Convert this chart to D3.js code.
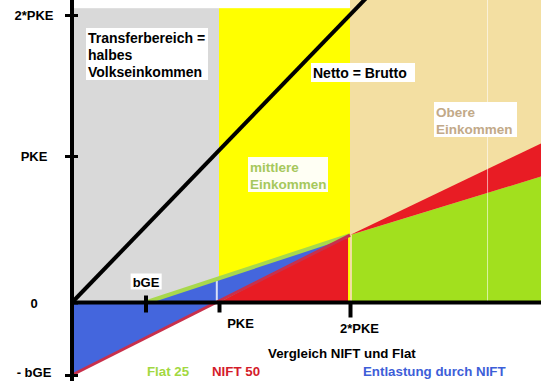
<!DOCTYPE html>
<html>
<head>
<meta charset="utf-8">
<script src="https://cdn.jsdelivr.net/npm/d3@7"></script>
<style>
  body { margin: 0; background: #fff; }
  text { font-family: Arial, "Liberation Sans", sans-serif; font-weight: bold; }
</style>
</head>
<body>
<svg id="chart" width="541" height="381"></svg>
<script>
// values in units of PKE (x = Brutto, y = Netto-Differenz)
var xTickValues = [0.5, 1, 2];
var xTickLabels = ["bGE", "PKE", "2*PKE"];
var yTickValues = [2, 1, 0, -0.5];
var yTickLabels = ["2*PKE", "PKE", "0", "- bGE"];

var flat25 = [[0.5, 0], [2, 0.46], [3.46, 0.86]];
var nift50 = [[0, -0.5], [2, 0.46], [3.46, 1.09]];
var nettoBrutto = [[0, 0], [2.16, 2.16]];

var bandNames = ["Transferbereich", "mittlere Einkommen", "Obere Einkommen"];
var bandStart = [0, 1, 2];
var bandEnd = [1, 2, 3.46];
var bandTop = [2.05, 2.05, 2.12];

var bandColor = {"Transferbereich": "#d9d9d9", "mittlere Einkommen": "#ffff00", "Obere Einkommen": "#f3dfa2"};

var svg = d3.select("#chart");
svg.append("rect").attr("width", 541).attr("height", 381).attr("fill", "#fff");

// hand drawn picture -> piecewise scales
var x = d3.scaleLinear().domain([0, 1, 2, 3.5]).range([72, 219, 350, 546.5]);
var y = d3.scaleLinear().domain([-0.5, 0, 1, 2, 2.11]).range([375, 302.5, 156, 15, 0]);

function at(series, v) {
    for (var i = 1; i < series.length; i++) {
        var a = series[i - 1], b = series[i];
        if (v <= b[0]) return a[1] + (b[1] - a[1]) * (v - a[0]) / (b[0] - a[0]);
    }
    return series[series.length - 1][1];
}

var line = d3.line().x(function(d) { return x(d[0]); }).y(function(d) { return y(d[1]); });
var poly = function(pts) { return line(pts) + "Z"; };

// background bands
svg.append("g").selectAll("rect")
    .data(bandNames)
    .join("rect")
    .attr("x", function(d, i) { return x(bandStart[i]); })
    .attr("y", function(d, i) { return y(bandTop[i]); })
    .attr("width", function(d, i) { return x(bandEnd[i]) - x(bandStart[i]); })
    .attr("height", function(d, i) { return y(0) - y(bandTop[i]); })
    .attr("fill", function(d) { return bandColor[d]; });

var xEnd = flat25[flat25.length - 1][0];

// red area under NIFT 50 between its zero and 2*PKE
var redZero = nift50[0][0] + (0 - nift50[0][1]) * (nift50[1][0] - nift50[0][0]) / (nift50[1][1] - nift50[0][1]);
svg.append("path")
    .attr("d", poly([[redZero - 0.02, 0], [redZero - 0.02, 0.01], [1.985, at(nift50, 1.985) + 0.01], [1.985, 0]]))
    .attr("fill", "#e81c24");

// green area under Flat 25 beyond 2*PKE
var greenPts = [[2.015, 0]].concat([[2.015, at(flat25, 2.015)]], flat25.filter(function(d) { return d[0] > 2; }), [[xEnd, 0]]);
svg.append("path").attr("d", poly(greenPts)).attr("fill", "#a2e01e");

// red wedge between both lines beyond 2*PKE
var wedge = nift50.filter(function(d) { return d[0] >= 2; })
    .concat(flat25.filter(function(d) { return d[0] >= 2; }).reverse());
svg.append("path").attr("d", poly(wedge)).attr("fill", "#e81c24");

// Entlastung durch NIFT
var blue = [[0, 0]].concat(nift50.filter(function(d) { return d[0] <= 2; }),
    flat25.filter(function(d) { return d[0] <= 2; }).reverse());
svg.append("path").attr("d", poly(blue)).attr("fill", "#4466dd");

// scan seams
svg.append("line")
    .attr("x1", x(3.05)).attr("x2", x(3.05))
    .attr("y1", 0).attr("y2", y(0))
    .attr("stroke", "#fff").attr("stroke-width", 1).attr("opacity", 0.6);
svg.append("line")
    .attr("x1", x(0.985)).attr("x2", x(0.985))
    .attr("y1", y(at(flat25, 0.985))).attr("y2", y(0))
    .attr("stroke", "#fff").attr("stroke-width", 2).attr("opacity", 0.8);

// lines
svg.append("path")
    .attr("d", line(flat25.filter(function(d) { return d[0] <= 2; })))
    .attr("fill", "none").attr("stroke", "#a8d84c").attr("stroke-width", 4);
svg.append("path")
    .attr("d", line(nift50.filter(function(d) { return d[0] <= 2; })))
    .attr("fill", "none").attr("stroke", "#c8304c").attr("stroke-width", 3);
svg.append("path")
    .attr("d", line(nettoBrutto))
    .attr("fill", "none").attr("stroke", "#000").attr("stroke-width", 4);

// axes
var yAxis = svg.append("g")
    .attr("transform", "translate(" + x(0) + ",0)")
    .call(d3.axisLeft(y).tickValues(yTickValues)
        .tickFormat(function(d, i) { return yTickLabels[i]; })
        .tickSizeOuter(0));
yAxis.select(".domain").remove();
yAxis.selectAll(".tick line")
    .attr("x1", 6).attr("x2", function(d) { return d === 0 ? 0 : -7; })
    .attr("stroke", "#000").attr("stroke-width", 3);
yAxis.selectAll(".tick text")
    .attr("x", -38)
    .attr("dy", function(d) { return d < 0 ? "0.15em" : "0.35em"; })
    .attr("text-anchor", "middle")
    .attr("font-size", 13).attr("fill", "#000");

var xAxis = svg.append("g")
    .attr("transform", "translate(0," + y(0) + ")")
    .call(d3.axisBottom(x).tickValues(xTickValues)
        .tickFormat(function(d, i) { return xTickLabels[i]; })
        .tickSizeOuter(0));
xAxis.select(".domain").remove();
xAxis.selectAll(".tick line")
    .attr("y1", function(d) { return d === 0.5 ? -7 : 0; })
    .attr("y2", function(d) { return d === 2 ? 15 : 10; })
    .attr("stroke", "#000").attr("stroke-width", 4);
var xLabelShift = {0.5: [0, -16], 1: [21, 25], 2: [9, 30]};
xAxis.selectAll(".tick text")
    .attr("x", function(d) { return xLabelShift[d][0]; })
    .attr("y", function(d) { return xLabelShift[d][1]; })
    .attr("dy", 0)
    .attr("text-anchor", "middle")
    .attr("font-size", 13).attr("fill", "#000");
// white box behind bGE
xAxis.select(".tick text").each(function() {
    var b = this.getBBox();
    d3.select(this.parentNode).insert("rect", "text")
        .attr("x", b.x - 2).attr("y", b.y - 1)
        .attr("width", b.width + 4).attr("height", b.height + 1)
        .attr("fill", "#fff");
});

svg.append("line")
    .attr("x1", x(0)).attr("x2", x(0)).attr("y1", 0).attr("y2", 381)
    .attr("stroke", "#000").attr("stroke-width", 4);
svg.append("line")
    .attr("x1", x(0)).attr("x2", 541).attr("y1", y(0)).attr("y2", y(0))
    .attr("stroke", "#000").attr("stroke-width", 4);

// annotation boxes
function note(px, py, w, h, lines, color, size, bg) {
    var g = svg.append("g");
    g.append("rect").attr("x", px).attr("y", py).attr("width", w).attr("height", h).attr("fill", bg || "#fff");
    lines.forEach(function(t, i) {
        g.append("text").attr("x", px + 2).attr("y", py + 15 + i * 17)
            .attr("font-size", size).attr("fill", color).text(t);
    });
}
note(86, 28, 122, 52, ["Transferbereich =", "halbes", "Volkseinkommen"], "#000", 14);
note(311, 63, 104, 19, ["Netto = Brutto"], "#000", 14);
note(434, 102, 83, 35, ["Obere", "Einkommen"], "#c2a988", 13.5);
note(248, 157, 80, 35, ["mittlere", "Einkommen"], "#a6c85c", 13.5, "#fffff4");

// legend
var legend = [
    {t: "Vergleich NIFT und Flat", x: 268, y: 358, c: "#000"},
    {t: "Flat 25", x: 147, y: 376, c: "#a2d840"},
    {t: "NIFT 50", x: 212, y: 376, c: "#d41c2a"},
    {t: "Entlastung durch NIFT", x: 363, y: 376, c: "#3d5ed8"}
];
svg.append("g").selectAll("text")
    .data(legend)
    .join("text")
    .attr("x", function(d) { return d.x; })
    .attr("y", function(d) { return d.y; })
    .attr("font-size", 13.3)
    .attr("fill", function(d) { return d.c; })
    .text(function(d) { return d.t; });
</script>
</body>
</html>
